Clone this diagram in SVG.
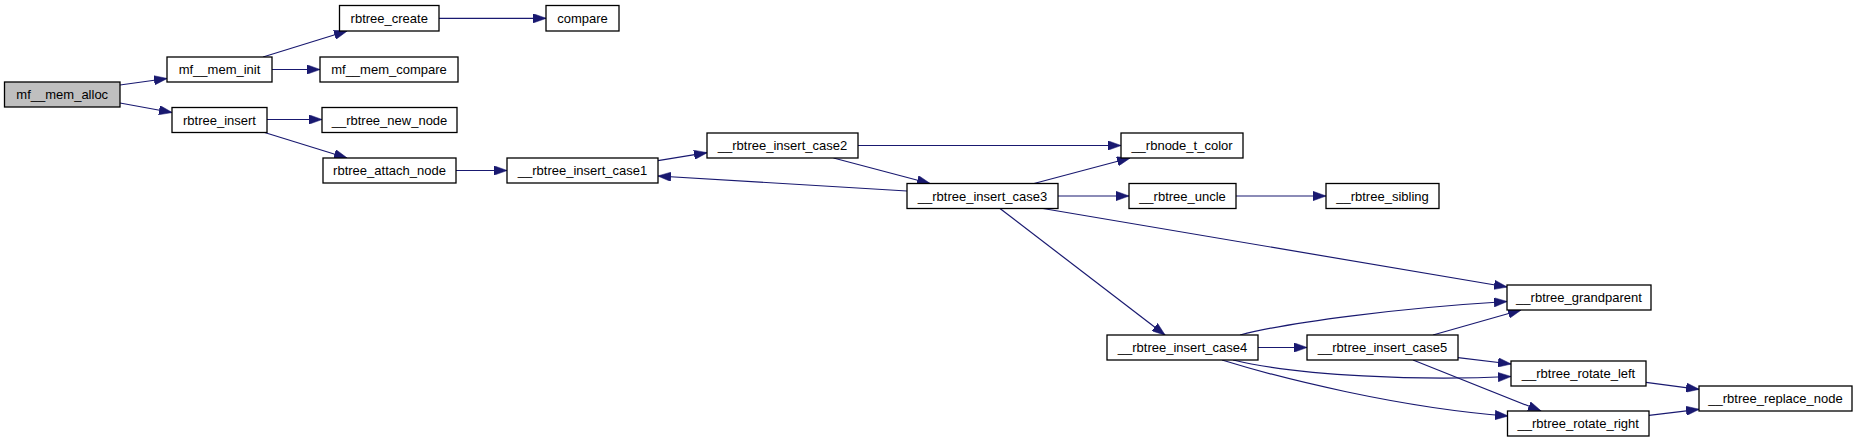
<svg xmlns="http://www.w3.org/2000/svg" width="1859" height="443" viewBox="0 0 1859 443">
<defs>
<style>
.n rect{fill:#ffffff;stroke:#000000;stroke-width:1.3}
.n.root rect{fill:#bfbfbf}
.n text{font-family:"Liberation Sans",Arial,Helvetica,sans-serif;font-size:13px;fill:#000000;text-anchor:middle}
.e path{fill:none;stroke:#191970;stroke-width:1.2;marker-end:url(#ah)}
</style>
<marker id="ah" viewBox="0 0 13.3 9.4" refX="13" refY="4.7" markerWidth="13.3" markerHeight="9.4" markerUnits="userSpaceOnUse" orient="auto">
<path d="M0,0 L13.3,4.7 L0,9.4 Z" fill="#191970" stroke="#191970" stroke-width="0.5"/>
</marker>
</defs>
<rect x="0" y="0" width="1859" height="443" fill="#ffffff"/>
<g id="connectors" class="e">
<path d="M120,85 L167,78.5"/>
<path d="M120,103 L172,112.5"/>
<path d="M263,57 L347,31"/>
<path d="M272,69.5 L320,69.5"/>
<path d="M439,18.3 L546,18.3"/>
<path d="M267,119.5 L322,119.5"/>
<path d="M263,132 L347,158"/>
<path d="M456,170.5 L507,170.5"/>
<path d="M658,160.7 L707,152.7"/>
<path d="M858,145.5 L1121,145.5"/>
<path d="M833.5,158 L930,183.5"/>
<path d="M907,191 L658,176"/>
<path d="M1034,183.5 L1130,158"/>
<path d="M1058,196 L1129,196"/>
<path d="M1236,196 L1326,196"/>
<path d="M1043,208.5 L1507,287"/>
<path d="M1000,208.5 L1165,335"/>
<path d="M1240,335 C1290,322 1400,308 1507,301.5"/>
<path d="M1258,347.5 L1307,347.5"/>
<path d="M1433,335 L1521,310"/>
<path d="M1458,357.7 L1511,364"/>
<path d="M1413,360 L1541,411"/>
<path d="M1233,360 C1300,376 1420,381 1511,376.5"/>
<path d="M1222,360 C1280,378 1400,408 1508,416"/>
<path d="M1646,382.3 L1699,389.3"/>
<path d="M1649,415.3 L1699,409.3"/>
</g>
<g id="mf__mem_alloc" class="n root"><rect x="4.5" y="82" width="115.5" height="25"/><text x="62.25" y="99">mf__mem_alloc</text></g>
<g id="mf__mem_init" class="n"><rect x="167" y="57" width="105" height="25"/><text x="219.5" y="74">mf__mem_init</text></g>
<g id="rbtree_insert" class="n"><rect x="172" y="107.5" width="95" height="25"/><text x="219.5" y="124.5">rbtree_insert</text></g>
<g id="rbtree_create" class="n"><rect x="339.5" y="5.5" width="99.5" height="25.5"/><text x="389.25" y="22.5">rbtree_create</text></g>
<g id="compare" class="n"><rect x="546" y="5.5" width="73" height="25.5"/><text x="582.5" y="22.5">compare</text></g>
<g id="mf__mem_compare" class="n"><rect x="320" y="57" width="138" height="25"/><text x="389" y="74">mf__mem_compare</text></g>
<g id="__rbtree_new_node" class="n"><rect x="322" y="107.5" width="135" height="25"/><text x="389.5" y="124.5">__rbtree_new_node</text></g>
<g id="rbtree_attach_node" class="n"><rect x="323" y="158" width="133" height="25"/><text x="389.5" y="175">rbtree_attach_node</text></g>
<g id="__rbtree_insert_case1" class="n"><rect x="507" y="158" width="151" height="25"/><text x="582.5" y="175">__rbtree_insert_case1</text></g>
<g id="__rbtree_insert_case2" class="n"><rect x="707" y="133" width="151" height="25"/><text x="782.5" y="150">__rbtree_insert_case2</text></g>
<g id="__rbtree_insert_case3" class="n"><rect x="907" y="183.5" width="151" height="25"/><text x="982.5" y="200.5">__rbtree_insert_case3</text></g>
<g id="__rbnode_t_color" class="n"><rect x="1121" y="133" width="122" height="25"/><text x="1182" y="150">__rbnode_t_color</text></g>
<g id="__rbtree_uncle" class="n"><rect x="1129" y="183.5" width="107" height="25"/><text x="1182.5" y="200.5">__rbtree_uncle</text></g>
<g id="__rbtree_sibling" class="n"><rect x="1326" y="183.5" width="113" height="25"/><text x="1382.5" y="200.5">__rbtree_sibling</text></g>
<g id="__rbtree_grandparent" class="n"><rect x="1507" y="285" width="144" height="25"/><text x="1579" y="302">__rbtree_grandparent</text></g>
<g id="__rbtree_insert_case4" class="n"><rect x="1107" y="335" width="151" height="25"/><text x="1182.5" y="352">__rbtree_insert_case4</text></g>
<g id="__rbtree_insert_case5" class="n"><rect x="1307" y="335" width="151" height="25"/><text x="1382.5" y="352">__rbtree_insert_case5</text></g>
<g id="__rbtree_rotate_left" class="n"><rect x="1511" y="361" width="135" height="25"/><text x="1578.5" y="378">__rbtree_rotate_left</text></g>
<g id="__rbtree_rotate_right" class="n"><rect x="1507.5" y="411" width="141.5" height="25"/><text x="1578.25" y="428">__rbtree_rotate_right</text></g>
<g id="__rbtree_replace_node" class="n"><rect x="1699" y="386" width="153" height="25"/><text x="1775.5" y="403">__rbtree_replace_node</text></g>
</svg>
